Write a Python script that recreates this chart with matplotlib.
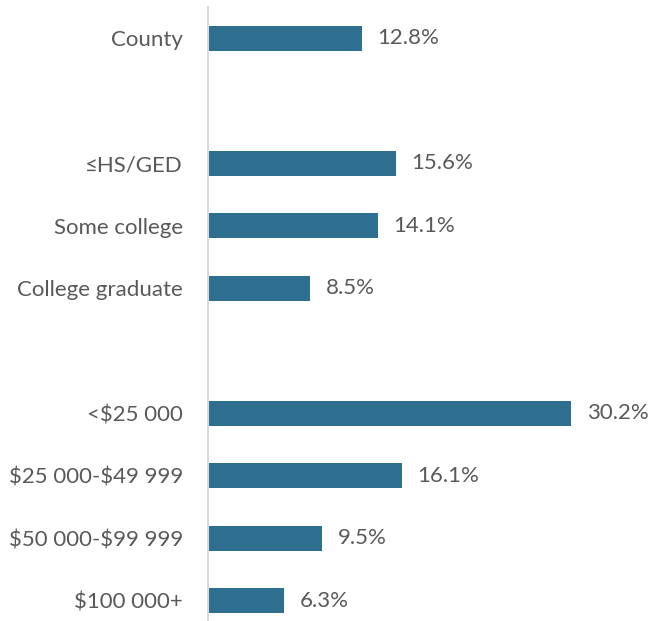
import matplotlib.pyplot as plt

categories = ['County', '', '\u2264HS/GED', 'Some college', 'College graduate', '',
              '<$25 000', '$25 000-$49 999', '$50 000-$99 999', '$100 000+']
values = [12.8, None, 15.6, 14.1, 8.5, None, 30.2, 16.1, 9.5, 6.3]

plt.rcParams['font.family'] = ['Lato', 'DejaVu Sans']
plt.rcParams['text.parse_math'] = False
text_color = '#595959'
bar_color = '#2E6E8F'

fig = plt.figure(figsize=(6.5, 6.21), dpi=100)
ax = fig.add_axes([0.32, -0.0177, 0.666, 1.0064])

pos = [i for i, v in enumerate(values) if v is not None]
vals = [v for v in values if v is not None]
ax.barh(pos, vals, height=0.4, color=bar_color)
for p, v in zip(pos, vals):
    ax.text(v + 1.3, p, f'{v:.1f}%', va='center', ha='left', fontsize=16, color=text_color)

ax.set_yticks(range(len(categories)))
ax.set_yticklabels(categories, fontsize=16, color=text_color)
ax.tick_params(axis='y', length=0, pad=18)
ax.set_ylim(9.5, -0.5)
ax.set_xlim(0, 36)
ax.set_xticks([])
for s in ['top', 'right', 'bottom']:
    ax.spines[s].set_visible(False)
ax.spines['left'].set_color('#D9D9D9')
ax.spines['left'].set_linewidth(1.5)

plt.savefig('out.png', dpi=100)
